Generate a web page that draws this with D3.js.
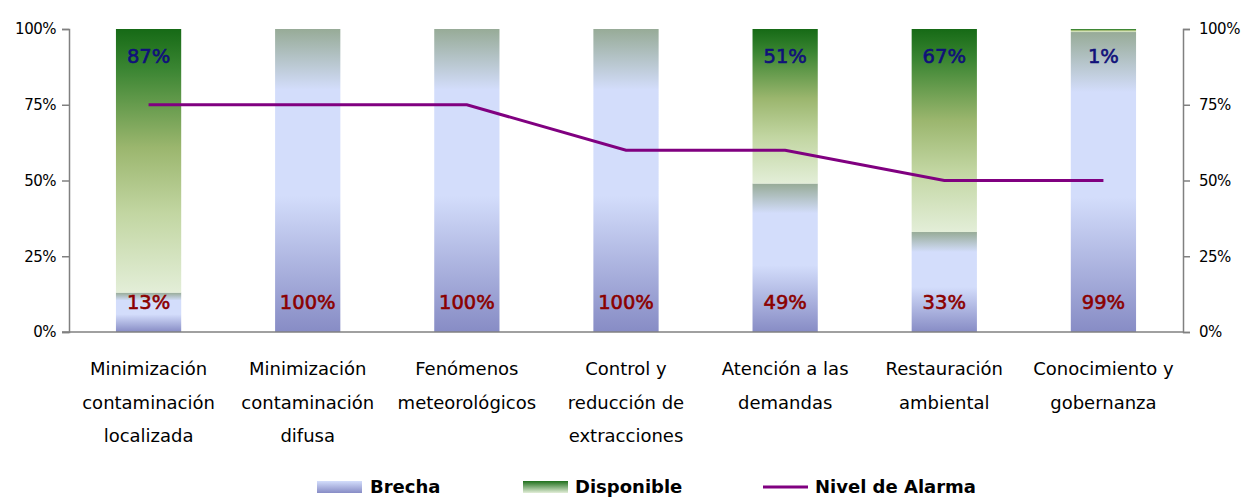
<!DOCTYPE html>
<html><head><meta charset="utf-8">
<script src="https://cdn.jsdelivr.net/npm/d3@7"></script>
<style>body{margin:0;background:#fff}svg{display:block}text{font-family:"DejaVu Sans",Verdana,sans-serif}</style>
</head><body><svg id="c" width="1244" height="498"></svg>
<script>
const categories = [
  ["Minimización","contaminación","localizada"],
  ["Minimización","contaminación","difusa"],
  ["Fenómenos","meteorológicos"],
  ["Control y","reducción de","extracciones"],
  ["Atención a las","demandas"],
  ["Restauración","ambiental"],
  ["Conocimiento y","gobernanza"]
];
const brecha = [13, 100, 100, 100, 49, 33, 99];
const disponible = [87, 0, 0, 0, 51, 67, 1];
const alarma = [75, 75, 75, 60, 60, 50, 50];
const tickValues = [0, 25, 50, 75, 100];
const seriesNames = ["Brecha", "Disponible", "Nivel de Alarma"];

(function(){
const svg = d3.select("#c");
const defs = svg.append("defs");
function grad(id, stops){
  const g = defs.append("linearGradient").attr("id", id).attr("x1",0).attr("y1",0).attr("x2",0).attr("y2",1);
  stops.forEach(s => g.append("stop").attr("offset", s[0]).attr("stop-color", s[1]));
}
grad("gBrecha", [[0,"#97ab97"],[0.2,"#d3ddfb"],[0.55,"#d3ddfb"],[1,"#878cc5"]]);
grad("gDisp", [[0,"#166a16"],[0.15,"#3a8532"],[0.45,"#9bb66e"],[0.7,"#c2d6a2"],[1,"#e3eed8"]]);
grad("gBrechaL", [[0,"#d3ddfb"],[1,"#878cc5"]]);
grad("gDispL", [[0,"#1f701c"],[1,"#e3eed8"]]);

const pL = 69, pR = 1183, pT = 29, pB = 332;
const x = d3.scaleBand().domain(d3.range(categories.length)).range([pL, pR]).paddingInner(0.59).paddingOuter(0.295);
const y = d3.scaleLinear().domain([0, 100]).range([pB, pT]);

const axisColor = "#808080";
const fmt = d => d + "%";
const gl = svg.append("g").attr("transform", `translate(${pL},0)`).call(d3.axisLeft(y).tickValues(tickValues).tickFormat(fmt).tickSize(7).tickPadding(6));
const gr = svg.append("g").attr("transform", `translate(${pR},0)`).call(d3.axisRight(y).tickValues(tickValues).tickFormat(fmt).tickSize(7).tickPadding(9));
[gl, gr].forEach(g => {
  g.select(".domain").attr("stroke", axisColor).attr("stroke-width", 1.5);
  g.selectAll(".tick line").attr("stroke", axisColor).attr("stroke-width", 1.5);
  g.selectAll(".tick text").attr("fill", "#000").style("font-size", "15px").style("font-family", '"DejaVu Sans",Verdana,sans-serif').style("letter-spacing","-0.5px");
});

const bw = x.bandwidth();
const bars = svg.append("g");
categories.forEach((c, i) => {
  const x0 = x(i);
  bars.append("rect").attr("x", x0).attr("width", bw)
    .attr("y", y(brecha[i])).attr("height", y(0) - y(brecha[i])).attr("fill", "url(#gBrecha)");
  if (disponible[i] > 0) {
    bars.append("rect").attr("x", x0).attr("width", bw)
      .attr("y", y(brecha[i] + disponible[i])).attr("height", y(brecha[i]) - y(brecha[i] + disponible[i])).attr("fill", "url(#gDisp)");
  }
});

svg.append("line").attr("x1", pL - 7).attr("x2", pR).attr("y1", pB).attr("y2", pB).attr("stroke", axisColor).attr("stroke-width", 1.5);

const line = d3.line().x((d, i) => x(i) + bw / 2).y(d => y(d));
svg.append("path").datum(alarma).attr("d", line).attr("fill", "none").attr("stroke", "#800080").attr("stroke-width", 3);

const lab = svg.append("g").style("font-size", "19.5px");
categories.forEach((c, i) => {
  const cx = x(i) + bw / 2;
  if (disponible[i] > 0)
    lab.append("text").attr("x", cx).attr("y", y(91)).attr("dy", "0.35em").attr("text-anchor", "middle").attr("fill", "#10107a").attr("stroke", "#10107a").attr("stroke-width", 0.6).text(disponible[i] + "%");
  if (brecha[i] > 0)
    lab.append("text").attr("x", cx).attr("y", y(10)).attr("dy", "0.35em").attr("text-anchor", "middle").attr("fill", "#8b0000").attr("stroke", "#8b0000").attr("stroke-width", 0.6).text(brecha[i] + "%");
});

const cl = svg.append("g").style("font-size", "18px");
categories.forEach((c, i) => {
  const cx = x(i) + bw / 2;
  c.forEach((t, j) => {
    cl.append("text").attr("x", cx).attr("y", 369 + j * 33.5).attr("dy", "0.35em").attr("text-anchor", "middle").attr("fill", "#000").text(t);
  });
});

const lg = svg.append("g").style("font-size", "18px").style("font-weight", "bold");
const ly = 487;
lg.append("rect").attr("x", 317).attr("y", ly - 6).attr("width", 45).attr("height", 12).attr("fill", "url(#gBrechaL)");
lg.append("text").attr("x", 370).attr("y", ly).attr("dy", "0.35em").text(seriesNames[0]);
lg.append("rect").attr("x", 523).attr("y", ly - 6).attr("width", 45).attr("height", 12).attr("fill", "url(#gDispL)");
lg.append("text").attr("x", 575).attr("y", ly).attr("dy", "0.35em").text(seriesNames[1]);
lg.append("line").attr("x1", 763).attr("x2", 808).attr("y1", ly).attr("y2", ly).attr("stroke", "#800080").attr("stroke-width", 3);
lg.append("text").attr("x", 815).attr("y", ly).attr("dy", "0.35em").text(seriesNames[2]);
})();
</script></body></html>
